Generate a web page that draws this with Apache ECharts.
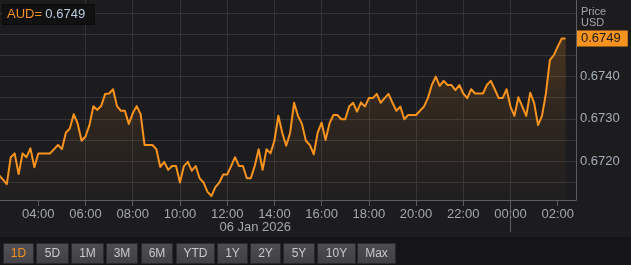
<!DOCTYPE html>
<html><head><meta charset="utf-8">
<script src="https://cdn.jsdelivr.net/npm/echarts@6/dist/echarts.min.js"></script>
<style>html,body{margin:0;padding:0;background:#1c1c1f;overflow:hidden}#c{width:631px;height:265px}</style>
</head><body><div id="c"></div>
<script>
// ---- data ----
const symbol = 'AUD=';
const priceTitle = 'Price';
const currency = 'USD';
const dateLabel = '06 Jan 2026';
const times = ['02:20','02:40','02:50','03:00','03:10','03:20','03:30','03:40','03:50','04:00',
'04:30','04:50','05:00','05:10','05:20','05:30','05:40','05:50','06:00','06:10',
'06:20','06:30','06:40','06:50','07:00','07:10','07:20','07:30','07:40','07:50',
'08:00','08:10','08:20','08:30','08:50','09:00','09:10','09:20','09:30','09:40',
'09:50','10:00','10:10','10:20','10:30','10:40','10:50','11:00','11:10','11:20',
'11:30','11:40','11:50','12:00','12:10','12:20','12:30','12:40','12:50','13:00',
'13:10','13:20','13:30','13:40','13:50','14:00','14:10','14:20','14:30','14:40',
'14:50','15:00','15:10','15:20','15:30','15:40','15:50','16:00','16:10','16:20',
'16:30','16:40','16:50','17:00','17:10','17:20','17:30','17:40','17:50','18:00',
'18:10','18:20','18:30','18:40','18:50','19:00','19:10','19:20','19:30','19:40',
'20:00','20:10','20:20','20:30','20:40','20:50','21:00','21:10','21:20','21:30',
'21:40','21:50','22:00','22:10','22:20','22:30','22:50','23:00','23:10','23:20',
'23:30','23:40','23:50','00:00','00:10','00:20','00:30','00:40','00:50','01:00',
'01:10','01:20','01:30','01:40','01:50','02:00','02:10','02:20'];
const prices = [0.67167,0.67145,0.67209,0.67218,0.67169,0.67218,0.67209,0.67230,0.67185,0.67218,
0.67218,0.67238,0.67228,0.67267,0.67277,0.67311,0.67289,0.67248,0.67258,0.67285,
0.67330,0.67321,0.67331,0.67359,0.67360,0.67370,0.67330,0.67319,0.67319,0.67288,
0.67313,0.67330,0.67311,0.67238,0.67238,0.67228,0.67186,0.67198,0.67179,0.67188,
0.67188,0.67149,0.67188,0.67198,0.67177,0.67188,0.67159,0.67149,0.67127,0.67117,
0.67138,0.67149,0.67168,0.67168,0.67188,0.67209,0.67188,0.67188,0.67159,0.67159,
0.67188,0.67228,0.67179,0.67228,0.67218,0.67248,0.67307,0.67267,0.67236,0.67267,
0.67338,0.67307,0.67288,0.67248,0.67238,0.67216,0.67267,0.67291,0.67250,0.67289,
0.67309,0.67309,0.67299,0.67299,0.67329,0.67338,0.67317,0.67339,0.67329,0.67349,
0.67349,0.67359,0.67338,0.67349,0.67359,0.67338,0.67319,0.67329,0.67299,0.67309,
0.67309,0.67319,0.67329,0.67349,0.67380,0.67400,0.67378,0.67390,0.67380,0.67380,
0.67368,0.67380,0.67360,0.67349,0.67370,0.67360,0.67360,0.67380,0.67390,0.67370,
0.67349,0.67349,0.67370,0.67329,0.67307,0.67351,0.67329,0.67307,0.67362,0.67338,
0.67285,0.67307,0.67360,0.67439,0.67451,0.67471,0.67490,0.67490];
const xTickHours = [4,6,8,10,12,14,16,18,20,22,24,26];
const xTickLabels = ['04:00','06:00','08:00','10:00','12:00','14:00','16:00','18:00','20:00','22:00','00:00','02:00'];
const dayBreakHour = 24;
const yTickValues = [0.672,0.673,0.674];
const yTickLabels = ['0.6720','0.6730','0.6740'];
const rangeButtons = ['1D','5D','1M','3M','6M','YTD','1Y','2Y','5Y','10Y','Max'];
const selectedRange = '1D';

// ---- layout / style ----
const ORANGE = '#f7931e';
const FONT = '"Liberation Sans", Arial, sans-serif';
const xRange = [2.378, 26.774];
const yRange = [0.671076, 0.675815];
const btnLeft = [3,36,71,106,141,176,217,250,283,317,357];
const btnWidth = [31,33,33,32,32,39,31,31,32,39,39];

// convert times to continuous hours
let dayOff = 0, prev = -1;
const hours = times.map(t => {
  const [hh, mm] = t.split(':').map(Number);
  let h = hh + mm / 60;
  if (h < prev) dayOff += 24;
  prev = h;
  return h + dayOff;
});
const seriesData = hours.map((h, i) => [h, prices[i]]);
const lastPrice = prices[prices.length - 1];
const dayMid = (xRange[0] + dayBreakHour) / 2;

const chart = echarts.init(document.getElementById('c'), null, {renderer: 'canvas'});

const graphics = [
  {type: 'rect', left: 0, top: 237, shape: {width: 631, height: 28}, style: {fill: '#151517'}, z: 1},
  {type: 'rect', shape: {x: 2.5, y: 4.5, width: 92, height: 20}, style: {fill: '#111112', stroke: '#0b0b0c', lineWidth: 1}, z: 100},
  {type: 'text', x: 7, y: 14.5, z: 101, style: {
    text: '{a|' + symbol + '} {b|' + lastPrice.toFixed(4) + '}',
    verticalAlign: 'middle',
    rich: {
      a: {fill: ORANGE, fontSize: 13, fontFamily: FONT},
      b: {fill: '#b9cbe0', fontSize: 13, fontFamily: FONT}
    }
  }},
  {type: 'text', x: 581, y: 6, z: 101, style: {
    text: priceTitle + '\n' + currency, fill: '#a6a6aa', fontSize: 11, lineHeight: 11.5, fontFamily: FONT
  }}
];
rangeButtons.forEach((b, i) => {
  const sel = b === selectedRange;
  graphics.push({type: 'rect', z: 10, shape: {x: btnLeft[i] + 0.5, y: 243.5, width: btnWidth[i] - 1, height: 20},
    style: {fill: new echarts.graphic.LinearGradient(0, 0, 0, 1, [
      {offset: 0, color: sel ? '#525258' : '#4d4d52'}, {offset: 1, color: sel ? '#434348' : '#3f3f44'}]),
      stroke: '#2a2a2d', lineWidth: 1}});
  graphics.push({type: 'text', z: 11, x: btnLeft[i] + btnWidth[i] / 2, y: 254,
    style: {text: b, fill: sel ? ORANGE : '#c9c9cd', fontSize: 12, fontFamily: FONT, align: 'center', verticalAlign: 'middle'}});
});

const axisGray = '#5e5e62';
const option = {
  backgroundColor: '#1c1c1f',
  animation: false,
  textStyle: {fontFamily: FONT},
  grid: {left: 0, right: 55, top: 0, bottom: 65, containLabel: false},
  xAxis: [{
    type: 'value', min: xRange[0], max: xRange[1], minInterval: 2, maxInterval: 2,
    position: 'bottom', z: 3,
    axisLine: {show: true, lineStyle: {color: axisGray, width: 1}},
    axisTick: {show: true, length: 6, customValues: xTickHours, lineStyle: {color: axisGray}},
    axisLabel: {customValues: xTickHours, margin: 8, color: '#a3a8ae', fontSize: 13, fontFamily: FONT,
      formatter: v => { const i = xTickHours.findIndex(h => Math.abs(h - v) < 1e-6); return i >= 0 ? xTickLabels[i] : ''; }},
    splitLine: {show: true, showMinLine: false, showMaxLine: false, lineStyle: {color: '#343437', width: 1}}
  }, {
    type: 'value', min: xRange[0], max: xRange[1], minInterval: 2, maxInterval: 2,
    position: 'bottom', gridIndex: 0, z: 1,
    axisLine: {show: false},
    axisTick: {show: true, length: 32, customValues: [dayBreakHour], lineStyle: {color: axisGray}},
    axisLabel: {customValues: [dayMid], margin: 21, color: '#a3a8ae', fontSize: 13, fontFamily: FONT, formatter: () => dateLabel},
    splitLine: {show: false}
  }],
  yAxis: [{
    type: 'value', min: yRange[0], max: yRange[1], minInterval: 0.0005, maxInterval: 0.0005,
    position: 'right', z: 3,
    axisLine: {show: true, lineStyle: {color: axisGray, width: 1}},
    axisTick: {show: false},
    axisLabel: {customValues: yTickValues, margin: 4, color: '#a5adb7', fontSize: 13, fontFamily: FONT,
      formatter: v => { const i = yTickValues.findIndex(t => Math.abs(t - v) < 1e-7); return i >= 0 ? yTickLabels[i] : ''; }},
    splitLine: {show: true, showMinLine: false, showMaxLine: false, lineStyle: {color: '#343437', width: 1}}
  }, {
    type: 'value', min: yRange[0], max: yRange[1], minInterval: 0.0005, maxInterval: 0.0005,
    position: 'right', z: 5,
    axisLine: {show: false}, axisTick: {show: false}, splitLine: {show: false},
    axisLabel: {customValues: [lastPrice], margin: 1, color: '#1a1a1a', fontSize: 13, fontFamily: FONT,
      backgroundColor: ORANGE, padding: [2, 7, 2, 4], lineHeight: 12,
      formatter: v => v.toFixed(4)}
  }],
  series: [{
    type: 'line', data: seriesData, xAxisIndex: 0, yAxisIndex: 0,
    showSymbol: false, symbol: 'none', smooth: false, clip: true, z: 4,
    lineStyle: {color: ORANGE, width: 2, join: 'round'},
    areaStyle: {origin: 'start', color: new echarts.graphic.LinearGradient(0, 0, 0, 1, [
      {offset: 0, color: 'rgba(247,147,30,0.30)'},
      {offset: 0.4, color: 'rgba(247,147,30,0.14)'},
      {offset: 1, color: 'rgba(247,147,30,0.02)'}])}
  }],
  graphic: graphics
};
chart.setOption(option);
</script>
</body></html>
